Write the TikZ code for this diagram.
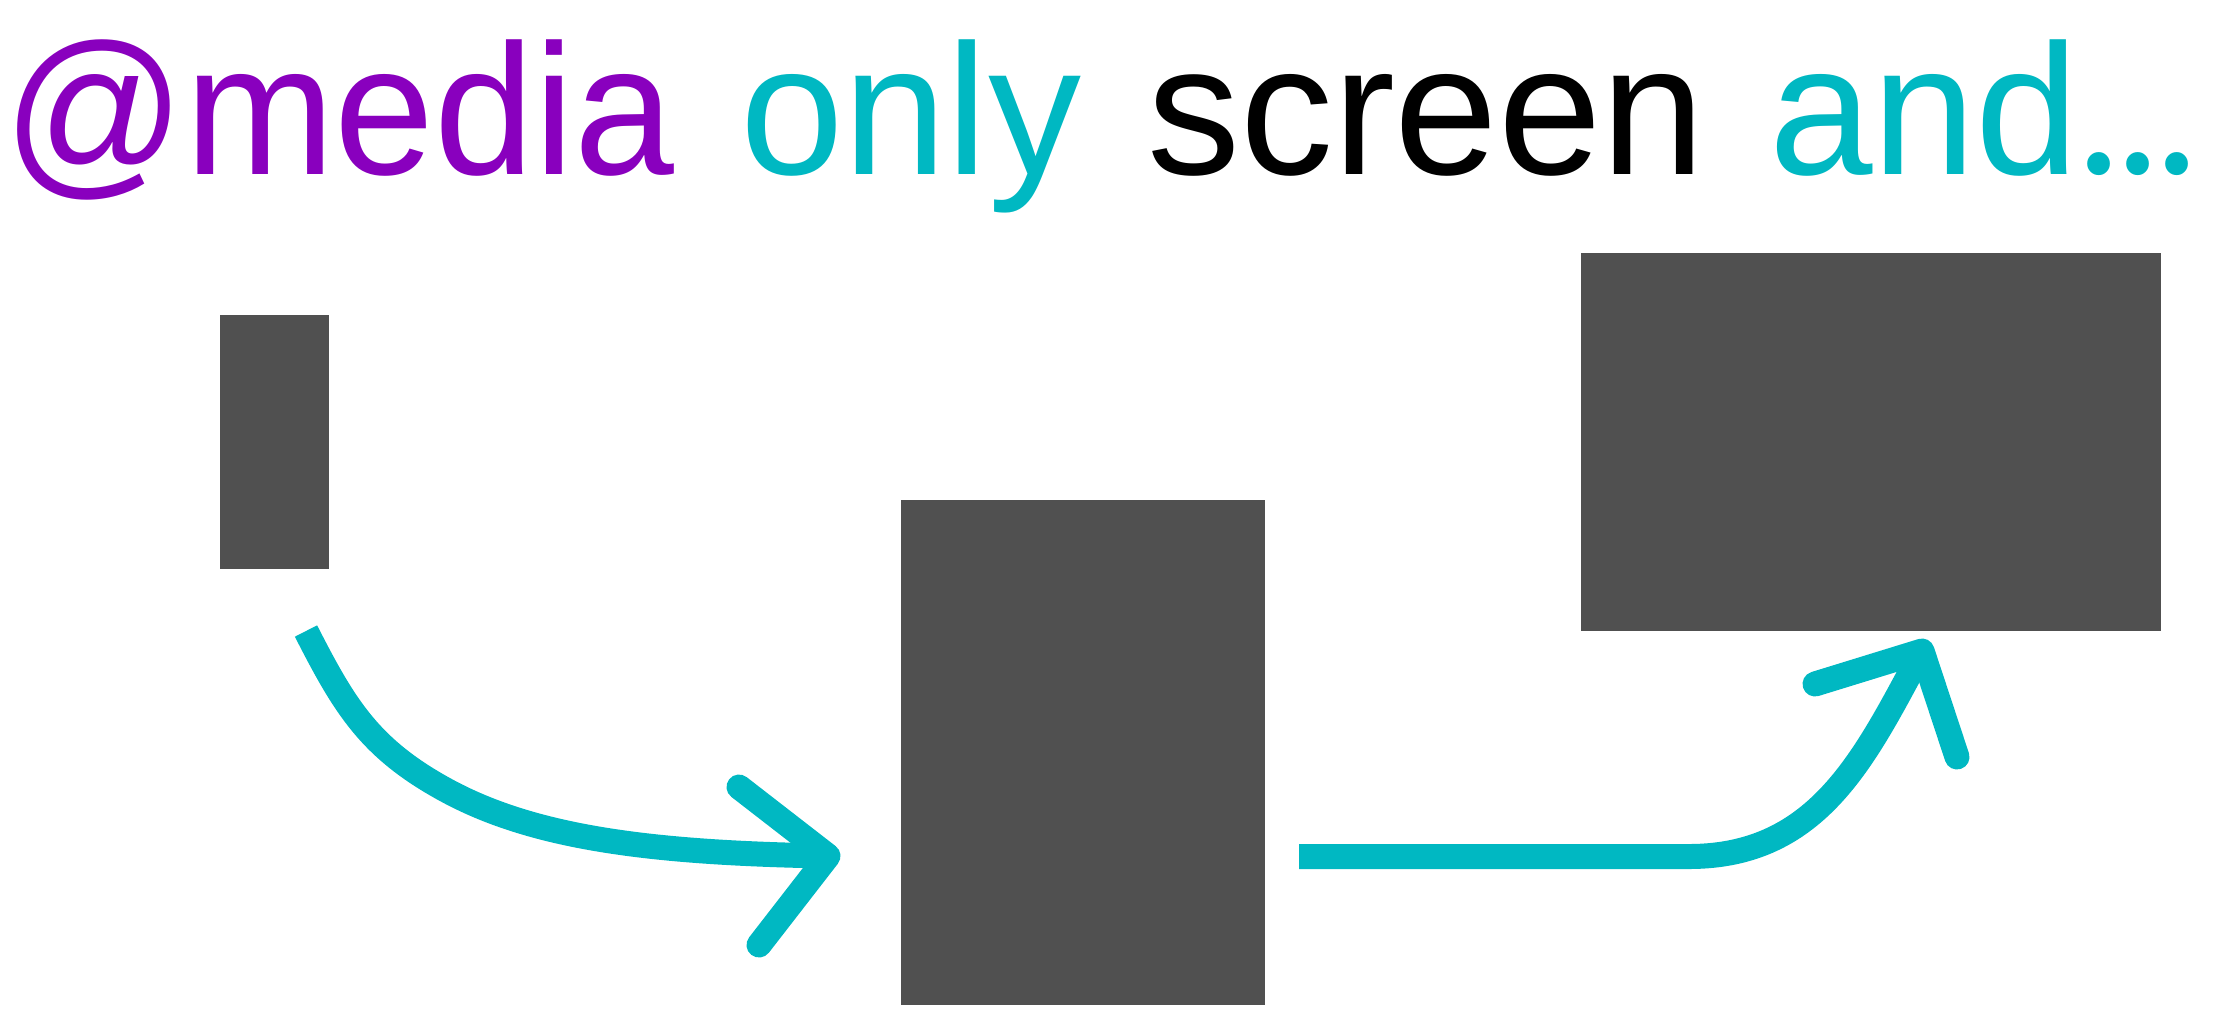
\documentclass[tikz,border=0pt]{standalone}
\usepackage{fontspec}
\setmainfont{Liberation Sans}
\newfontfamily\dotfont{Poppins}
\definecolor{mpurple}{RGB}{137,0,190}
\definecolor{mteal}{RGB}{0,184,194}
\definecolor{mgray}{RGB}{80,80,80}
\begin{document}
\begin{tikzpicture}[x=1pt,y=-1pt,
  word/.style={anchor=base west, inner sep=0pt, outer sep=0pt, font=\fontsize{186}{200}\selectfont},
  block/.style={fill=mgray, draw=none, inner sep=0pt, outer sep=0pt, anchor=north west},
  flow/.style={draw=mteal, line width=25pt, line cap=butt, line join=round},
  head/.style={draw=mteal, line width=25pt, line cap=round, line join=round}]
\useasboundingbox (0,0) rectangle (2234,1018);
% title
\node[word, text=mpurple] (w1) at (3,174) {\scalebox{0.965}[1]{@media}};
\node[word, text=mteal] (w2) at (740,174) {only};
\node[word, text=black] (w3) at (1147,174) {screen};
\node[word, text=mteal] (w4) at (1769,174) {and{\dotfont...}};
% blocks
\node[block, minimum width=109pt, minimum height=254pt] (r1) at (220,315) {};
\node[block, minimum width=364pt, minimum height=505pt] (r2) at (901,500) {};
\node[block, minimum width=580pt, minimum height=378pt] (r3) at (1581,253) {};
% connector 1
\coordinate (c1s) at (306,631);
\coordinate (c1m) at (444,789);
\coordinate (c1e) at (828,856);
\coordinate (h1a) at (739,787);
\coordinate (h1b) at (759,945);
\draw[flow] (c1s) .. controls (344.6,706.7) and (369.6,747.9) .. (c1m)
  .. controls (531.5,837.4) and (648,853) .. (c1e);
\draw[head] (h1a) -- (c1e) -- (h1b);
% connector 2
\coordinate (c2s) at (1299,856.5);
\coordinate (c2b) at (1689,856.5);
\coordinate (c2e) at (1922,651);
\coordinate (h2a) at (1815,684);
\coordinate (h2b) at (1957,757);
\draw[flow] (c2s) -- (c2b) .. controls (1819,856.5) and (1865.1,756.6) .. (c2e);
\draw[head] (h2a) -- (c2e) -- (h2b);
\end{tikzpicture}
\end{document}
